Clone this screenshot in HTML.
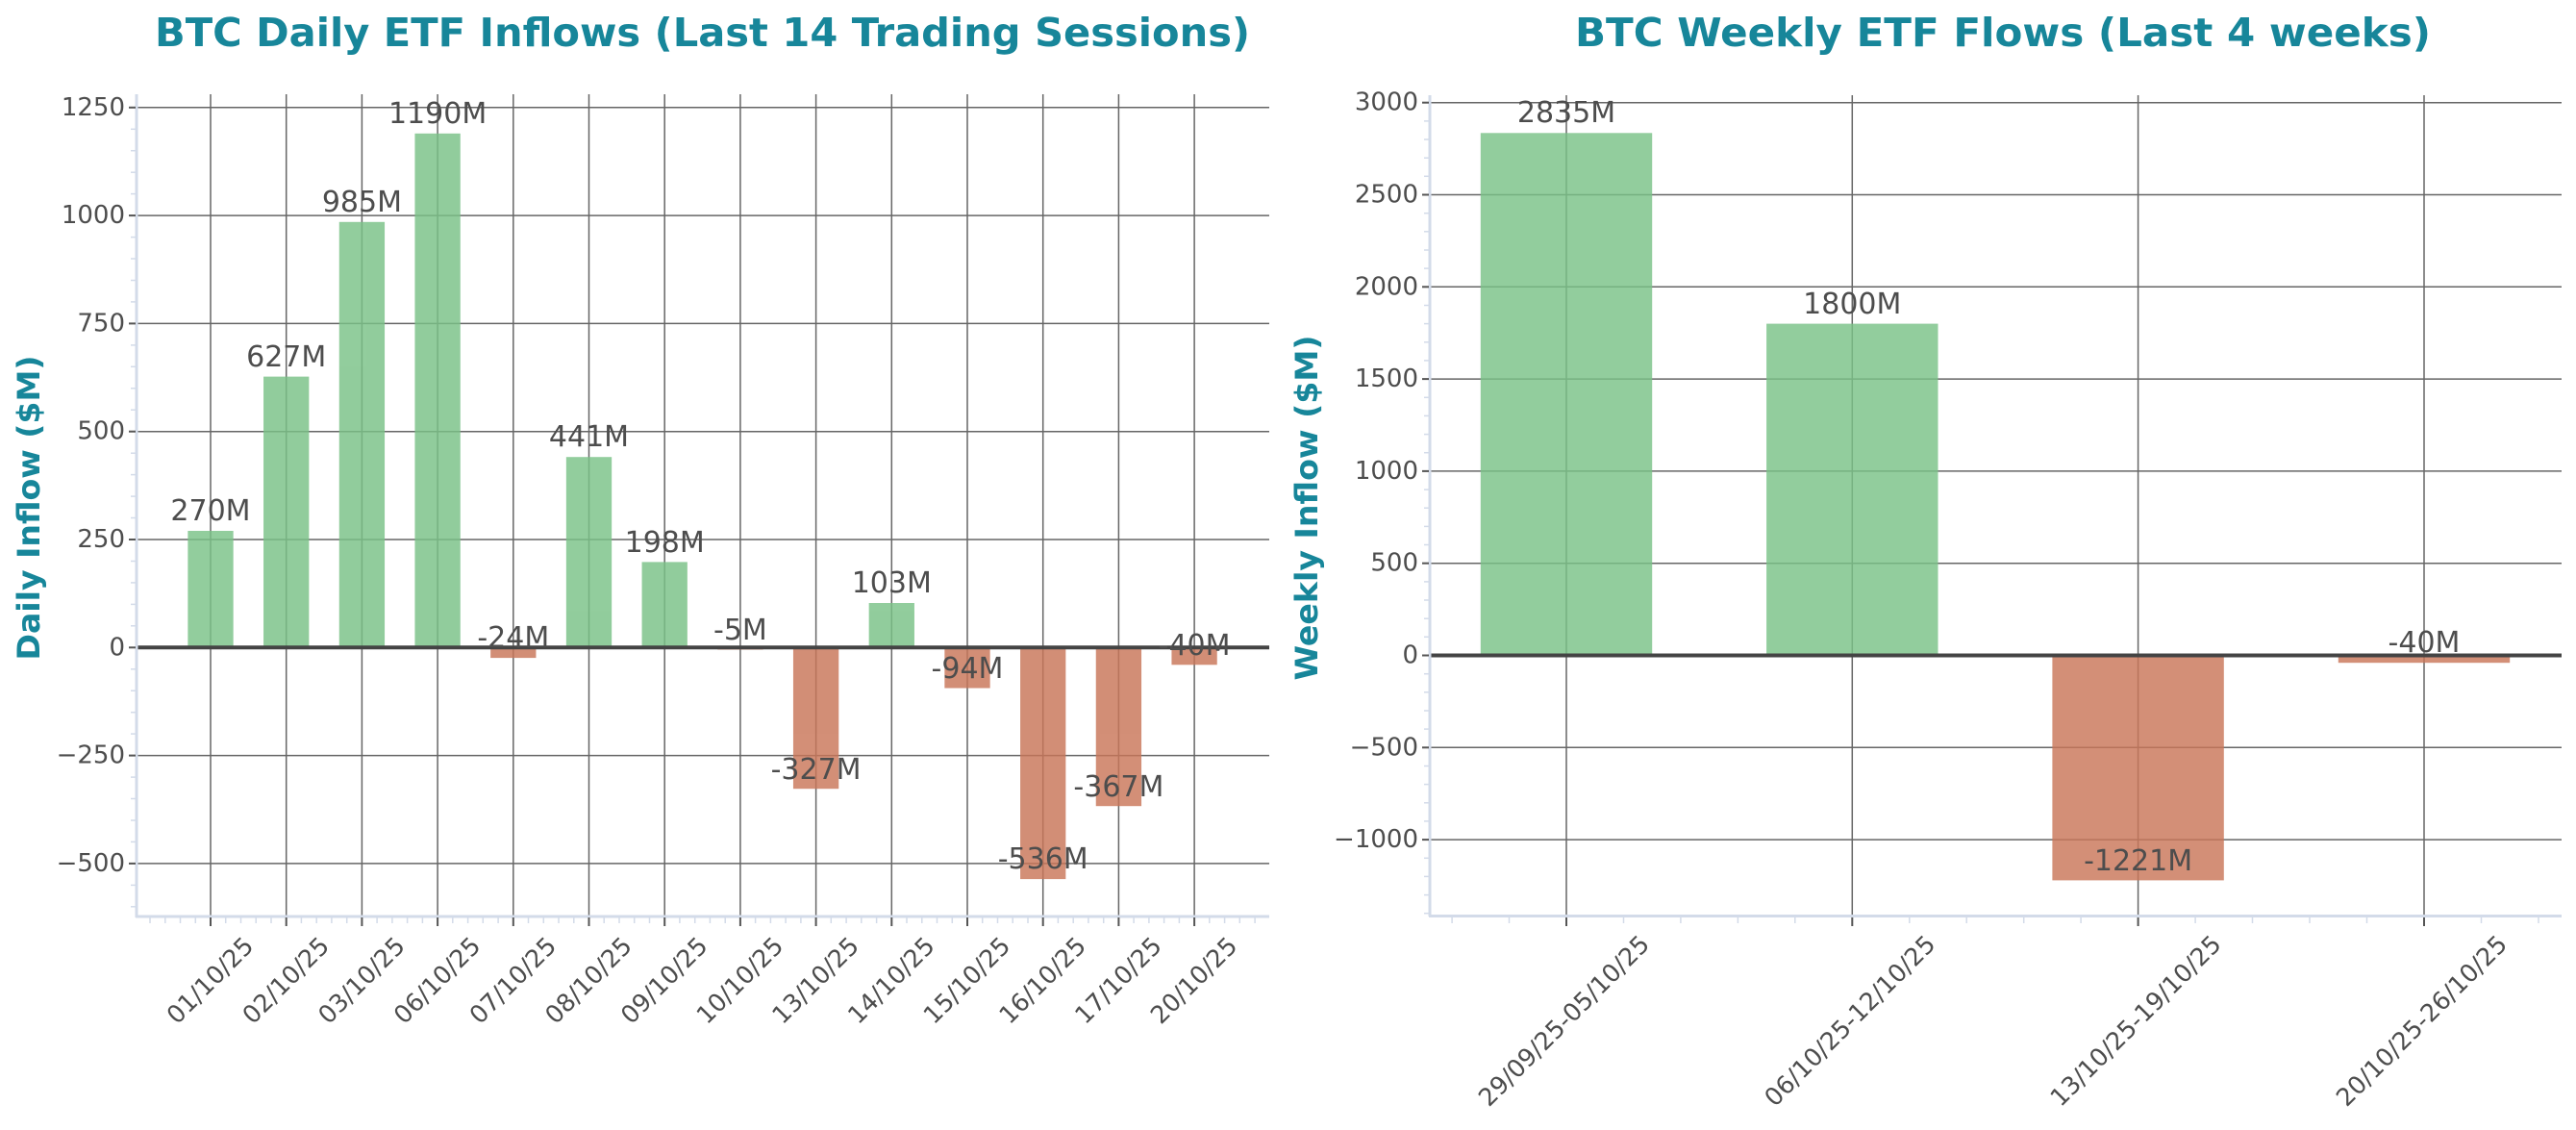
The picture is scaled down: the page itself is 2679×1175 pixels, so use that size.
<!DOCTYPE html>
<html><head><meta charset="utf-8"><style>
html,body{margin:0;padding:0;background:#fff;}
svg{display:block;font-family:"DejaVu Sans","Liberation Sans",sans-serif;}
</style></head><body>
<svg width="2679" height="1175" viewBox="0 0 2679 1175" xmlns="http://www.w3.org/2000/svg">
<rect width="2679" height="1175" fill="#fff"/>
<!-- Titles -->
<text x="161" y="48" font-size="41" font-weight="bold" fill="#17869a" textLength="1139" lengthAdjust="spacingAndGlyphs">BTC Daily ETF Inflows (Last 14 Trading Sessions)</text>
<text x="1638" y="48" font-size="41" font-weight="bold" fill="#17869a" textLength="890" lengthAdjust="spacingAndGlyphs">BTC Weekly ETF Flows (Last 4 weeks)</text>
<!-- Y labels -->
<text transform="translate(41,528) rotate(-90)" text-anchor="middle" font-size="32" font-weight="bold" fill="#17869a" textLength="317" lengthAdjust="spacingAndGlyphs">Daily Inflow ($M)</text>
<text transform="translate(1370,528) rotate(-90)" text-anchor="middle" font-size="32" font-weight="bold" fill="#17869a" textLength="359" lengthAdjust="spacingAndGlyphs">Weekly Inflow ($M)</text>

<!-- LEFT CHART -->
<g stroke="#666" stroke-width="1.5">
<line x1="142" x2="1320" y1="111.8" y2="111.8"/><line x1="142" x2="1320" y1="224.1" y2="224.1"/>
<line x1="142" x2="1320" y1="336.4" y2="336.4"/><line x1="142" x2="1320" y1="448.7" y2="448.7"/>
<line x1="142" x2="1320" y1="561" y2="561"/><line x1="142" x2="1320" y1="785.6" y2="785.6"/>
<line x1="142" x2="1320" y1="897.9" y2="897.9"/>
<line x1="219" x2="219" y1="98" y2="952"/><line x1="297.7" x2="297.7" y1="98" y2="952"/>
<line x1="376.4" x2="376.4" y1="98" y2="952"/><line x1="455.1" x2="455.1" y1="98" y2="952"/>
<line x1="533.8" x2="533.8" y1="98" y2="952"/><line x1="612.5" x2="612.5" y1="98" y2="952"/>
<line x1="691.2" x2="691.2" y1="98" y2="952"/><line x1="769.9" x2="769.9" y1="98" y2="952"/>
<line x1="848.6" x2="848.6" y1="98" y2="952"/><line x1="927.3" x2="927.3" y1="98" y2="952"/>
<line x1="1006" x2="1006" y1="98" y2="952"/><line x1="1084.7" x2="1084.7" y1="98" y2="952"/>
<line x1="1163.4" x2="1163.4" y1="98" y2="952"/><line x1="1242.1" x2="1242.1" y1="98" y2="952"/>
</g>
<g opacity="0.82">
<g fill="#7ac287">
<rect x="195.35" y="552" width="47.3" height="121.3"/>
<rect x="274.05" y="391.6" width="47.3" height="281.7"/>
<rect x="352.75" y="230.8" width="47.3" height="442.5"/>
<rect x="431.45" y="138.8" width="47.3" height="534.5"/>
<rect x="588.85" y="475.2" width="47.3" height="198.1"/>
<rect x="667.55" y="584.4" width="47.3" height="88.9"/>
<rect x="903.65" y="627" width="47.3" height="46.3"/>
</g>
<g fill="#c97659">
<rect x="510.15" y="673.3" width="47.3" height="10.8"/>
<rect x="746.25" y="673.3" width="47.3" height="2.2"/>
<rect x="824.95" y="673.3" width="47.3" height="146.9"/>
<rect x="982.35" y="673.3" width="47.3" height="42.2"/>
<rect x="1061.05" y="673.3" width="47.3" height="240.8"/>
<rect x="1139.75" y="673.3" width="47.3" height="164.9"/>
<rect x="1218.45" y="673.3" width="47.3" height="18"/>
</g>
</g>
<line x1="142" x2="1320" y1="673.3" y2="673.3" stroke="#444" stroke-width="4"/>
<!-- spines -->
<g stroke="#d3dbe9" stroke-width="3"><line x1="142" x2="142" y1="98" y2="954"/><line x1="141" x2="1320" y1="953" y2="953"/></g>
<g stroke="#d3dbe9" stroke-width="1.5">
<line x1="136" x2="141" y1="134.3" y2="134.3"/><line x1="136" x2="141" y1="156.7" y2="156.7"/><line x1="136" x2="141" y1="179.2" y2="179.2"/><line x1="136" x2="141" y1="201.6" y2="201.6"/>
<line x1="136" x2="141" y1="246.6" y2="246.6"/><line x1="136" x2="141" y1="269" y2="269"/><line x1="136" x2="141" y1="291.5" y2="291.5"/><line x1="136" x2="141" y1="313.9" y2="313.9"/>
<line x1="136" x2="141" y1="358.9" y2="358.9"/><line x1="136" x2="141" y1="381.3" y2="381.3"/><line x1="136" x2="141" y1="403.8" y2="403.8"/><line x1="136" x2="141" y1="426.2" y2="426.2"/>
<line x1="136" x2="141" y1="471.2" y2="471.2"/><line x1="136" x2="141" y1="493.6" y2="493.6"/><line x1="136" x2="141" y1="516.1" y2="516.1"/><line x1="136" x2="141" y1="538.5" y2="538.5"/>
<line x1="136" x2="141" y1="583.5" y2="583.5"/><line x1="136" x2="141" y1="605.9" y2="605.9"/><line x1="136" x2="141" y1="628.4" y2="628.4"/><line x1="136" x2="141" y1="650.8" y2="650.8"/>
<line x1="136" x2="141" y1="695.8" y2="695.8"/><line x1="136" x2="141" y1="718.2" y2="718.2"/><line x1="136" x2="141" y1="740.7" y2="740.7"/><line x1="136" x2="141" y1="763.1" y2="763.1"/>
<line x1="136" x2="141" y1="808.1" y2="808.1"/><line x1="136" x2="141" y1="830.5" y2="830.5"/><line x1="136" x2="141" y1="853" y2="853"/><line x1="136" x2="141" y1="875.4" y2="875.4"/>
<line x1="136" x2="141" y1="920.4" y2="920.4"/><line x1="136" x2="141" y1="942.8" y2="942.8"/>
</g>
<g stroke="#d3dbe9" stroke-width="1.5" id="lxminor">
<line x1="156" x2="156" y1="954" y2="960"/><line x1="171.8" x2="171.8" y1="954" y2="960"/><line x1="187.5" x2="187.5" y1="954" y2="960"/><line x1="203.3" x2="203.3" y1="954" y2="960"/>
<line x1="234.7" x2="234.7" y1="954" y2="960"/><line x1="250.5" x2="250.5" y1="954" y2="960"/><line x1="266.2" x2="266.2" y1="954" y2="960"/><line x1="282" x2="282" y1="954" y2="960"/>
<line x1="313.4" x2="313.4" y1="954" y2="960"/><line x1="329.2" x2="329.2" y1="954" y2="960"/><line x1="344.9" x2="344.9" y1="954" y2="960"/><line x1="360.7" x2="360.7" y1="954" y2="960"/>
<line x1="392.1" x2="392.1" y1="954" y2="960"/><line x1="407.9" x2="407.9" y1="954" y2="960"/><line x1="423.6" x2="423.6" y1="954" y2="960"/><line x1="439.4" x2="439.4" y1="954" y2="960"/>
<line x1="470.8" x2="470.8" y1="954" y2="960"/><line x1="486.6" x2="486.6" y1="954" y2="960"/><line x1="502.3" x2="502.3" y1="954" y2="960"/><line x1="518.1" x2="518.1" y1="954" y2="960"/>
<line x1="549.5" x2="549.5" y1="954" y2="960"/><line x1="565.3" x2="565.3" y1="954" y2="960"/><line x1="581" x2="581" y1="954" y2="960"/><line x1="596.8" x2="596.8" y1="954" y2="960"/>
<line x1="628.2" x2="628.2" y1="954" y2="960"/><line x1="644" x2="644" y1="954" y2="960"/><line x1="659.7" x2="659.7" y1="954" y2="960"/><line x1="675.5" x2="675.5" y1="954" y2="960"/>
<line x1="706.9" x2="706.9" y1="954" y2="960"/><line x1="722.7" x2="722.7" y1="954" y2="960"/><line x1="738.4" x2="738.4" y1="954" y2="960"/><line x1="754.2" x2="754.2" y1="954" y2="960"/>
<line x1="785.6" x2="785.6" y1="954" y2="960"/><line x1="801.4" x2="801.4" y1="954" y2="960"/><line x1="817.1" x2="817.1" y1="954" y2="960"/><line x1="832.9" x2="832.9" y1="954" y2="960"/>
<line x1="864.3" x2="864.3" y1="954" y2="960"/><line x1="880.1" x2="880.1" y1="954" y2="960"/><line x1="895.8" x2="895.8" y1="954" y2="960"/><line x1="911.6" x2="911.6" y1="954" y2="960"/>
<line x1="943" x2="943" y1="954" y2="960"/><line x1="958.8" x2="958.8" y1="954" y2="960"/><line x1="974.5" x2="974.5" y1="954" y2="960"/><line x1="990.3" x2="990.3" y1="954" y2="960"/>
<line x1="1021.7" x2="1021.7" y1="954" y2="960"/><line x1="1037.5" x2="1037.5" y1="954" y2="960"/><line x1="1053.2" x2="1053.2" y1="954" y2="960"/><line x1="1069" x2="1069" y1="954" y2="960"/>
<line x1="1100.4" x2="1100.4" y1="954" y2="960"/><line x1="1116.2" x2="1116.2" y1="954" y2="960"/><line x1="1131.9" x2="1131.9" y1="954" y2="960"/><line x1="1147.7" x2="1147.7" y1="954" y2="960"/>
<line x1="1179.1" x2="1179.1" y1="954" y2="960"/><line x1="1194.9" x2="1194.9" y1="954" y2="960"/><line x1="1210.6" x2="1210.6" y1="954" y2="960"/><line x1="1226.4" x2="1226.4" y1="954" y2="960"/>
<line x1="1257.8" x2="1257.8" y1="954" y2="960"/><line x1="1273.6" x2="1273.6" y1="954" y2="960"/><line x1="1289.3" x2="1289.3" y1="954" y2="960"/><line x1="1305.1" x2="1305.1" y1="954" y2="960"/>
</g>
<g stroke="#555" stroke-width="2">
<line x1="134" x2="141" y1="111.8" y2="111.8"/><line x1="134" x2="141" y1="224.1" y2="224.1"/><line x1="134" x2="141" y1="336.4" y2="336.4"/><line x1="134" x2="141" y1="448.7" y2="448.7"/>
<line x1="134" x2="141" y1="561" y2="561"/><line x1="134" x2="141" y1="673.3" y2="673.3"/><line x1="134" x2="141" y1="785.6" y2="785.6"/><line x1="134" x2="141" y1="897.9" y2="897.9"/>
<line x1="219" x2="219" y1="954" y2="963"/><line x1="297.7" x2="297.7" y1="954" y2="963"/><line x1="376.4" x2="376.4" y1="954" y2="963"/><line x1="455.1" x2="455.1" y1="954" y2="963"/>
<line x1="533.8" x2="533.8" y1="954" y2="963"/><line x1="612.5" x2="612.5" y1="954" y2="963"/><line x1="691.2" x2="691.2" y1="954" y2="963"/><line x1="769.9" x2="769.9" y1="954" y2="963"/>
<line x1="848.6" x2="848.6" y1="954" y2="963"/><line x1="927.3" x2="927.3" y1="954" y2="963"/><line x1="1006" x2="1006" y1="954" y2="963"/><line x1="1084.7" x2="1084.7" y1="954" y2="963"/>
<line x1="1163.4" x2="1163.4" y1="954" y2="963"/><line x1="1242.1" x2="1242.1" y1="954" y2="963"/>
</g>
<g font-size="26" fill="#4d4d4d" text-anchor="end" dominant-baseline="central">
<text x="130" y="111.8">1250</text><text x="130" y="224.1">1000</text><text x="130" y="336.4">750</text><text x="130" y="448.7">500</text>
<text x="130" y="561">250</text><text x="130" y="673.3">0</text><text x="130" y="785.6">−250</text><text x="130" y="897.9">−500</text>
</g>
<g font-size="30" fill="#4d4d4d" text-anchor="middle">
<text x="219" y="541">270M</text><text x="297.7" y="381">627M</text><text x="376.4" y="220">985M</text><text x="455.1" y="128">1190M</text>
<text x="533.8" y="673">-24M</text><text x="612.5" y="464">441M</text><text x="691.2" y="574">198M</text><text x="769.9" y="665">-5M</text>
<text x="848.6" y="810">-327M</text><text x="927.3" y="616">103M</text><text x="1006" y="705">-94M</text><text x="1084.7" y="903">-536M</text>
<text x="1163.4" y="828">-367M</text><text x="1242.1" y="681">-40M</text>
</g>
<g font-size="25.5" fill="#4d4d4d" text-anchor="middle" dominant-baseline="central">
<text transform="translate(219,1020) rotate(-45)">01/10/25</text>
<text transform="translate(297.7,1020) rotate(-45)">02/10/25</text>
<text transform="translate(376.4,1020) rotate(-45)">03/10/25</text>
<text transform="translate(455.1,1020) rotate(-45)">06/10/25</text>
<text transform="translate(533.8,1020) rotate(-45)">07/10/25</text>
<text transform="translate(612.5,1020) rotate(-45)">08/10/25</text>
<text transform="translate(691.2,1020) rotate(-45)">09/10/25</text>
<text transform="translate(769.9,1020) rotate(-45)">10/10/25</text>
<text transform="translate(848.6,1020) rotate(-45)">13/10/25</text>
<text transform="translate(927.3,1020) rotate(-45)">14/10/25</text>
<text transform="translate(1006,1020) rotate(-45)">15/10/25</text>
<text transform="translate(1084.7,1020) rotate(-45)">16/10/25</text>
<text transform="translate(1163.4,1020) rotate(-45)">17/10/25</text>
<text transform="translate(1242.1,1020) rotate(-45)">20/10/25</text>
</g>

<!-- RIGHT CHART -->
<g stroke="#666" stroke-width="1.5">
<line x1="1487" x2="2664" y1="106.7" y2="106.7"/><line x1="1487" x2="2664" y1="202.5" y2="202.5"/>
<line x1="1487" x2="2664" y1="298.3" y2="298.3"/><line x1="1487" x2="2664" y1="394.1" y2="394.1"/>
<line x1="1487" x2="2664" y1="489.9" y2="489.9"/><line x1="1487" x2="2664" y1="585.7" y2="585.7"/>
<line x1="1487" x2="2664" y1="777.3" y2="777.3"/><line x1="1487" x2="2664" y1="873.1" y2="873.1"/>
<line x1="1629" x2="1629" y1="99" y2="952"/><line x1="1926.3" x2="1926.3" y1="99" y2="952"/>
<line x1="2223.6" x2="2223.6" y1="99" y2="952"/><line x1="2521" x2="2521" y1="99" y2="952"/>
</g>
<g opacity="0.82">
<rect x="1539.8" y="138.3" width="178.4" height="543.2" fill="#7ac287"/>
<rect x="1837.1" y="336.6" width="178.4" height="344.9" fill="#7ac287"/>
<rect x="2134.4" y="681.5" width="178.4" height="233.9" fill="#c97659"/>
<rect x="2431.8" y="681.5" width="178.4" height="7.7" fill="#c97659"/>
</g>
<line x1="1487" x2="2664" y1="681.5" y2="681.5" stroke="#444" stroke-width="4"/>
<g stroke="#d3dbe9" stroke-width="3"><line x1="1487" x2="1487" y1="99" y2="953"/><line x1="1486" x2="2664" y1="952.5" y2="952.5"/></g>
<g stroke="#d3dbe9" stroke-width="1.5">
<line x1="1481" x2="1486" y1="125.9" y2="125.9"/><line x1="1481" x2="1486" y1="145" y2="145"/><line x1="1481" x2="1486" y1="164.2" y2="164.2"/><line x1="1481" x2="1486" y1="183.3" y2="183.3"/>
<line x1="1481" x2="1486" y1="221.7" y2="221.7"/><line x1="1481" x2="1486" y1="240.8" y2="240.8"/><line x1="1481" x2="1486" y1="260" y2="260"/><line x1="1481" x2="1486" y1="279.1" y2="279.1"/>
<line x1="1481" x2="1486" y1="317.5" y2="317.5"/><line x1="1481" x2="1486" y1="336.6" y2="336.6"/><line x1="1481" x2="1486" y1="355.8" y2="355.8"/><line x1="1481" x2="1486" y1="374.9" y2="374.9"/>
<line x1="1481" x2="1486" y1="413.3" y2="413.3"/><line x1="1481" x2="1486" y1="432.4" y2="432.4"/><line x1="1481" x2="1486" y1="451.6" y2="451.6"/><line x1="1481" x2="1486" y1="470.7" y2="470.7"/>
<line x1="1481" x2="1486" y1="509.1" y2="509.1"/><line x1="1481" x2="1486" y1="528.2" y2="528.2"/><line x1="1481" x2="1486" y1="547.4" y2="547.4"/><line x1="1481" x2="1486" y1="566.5" y2="566.5"/>
<line x1="1481" x2="1486" y1="604.9" y2="604.9"/><line x1="1481" x2="1486" y1="624" y2="624"/><line x1="1481" x2="1486" y1="643.2" y2="643.2"/><line x1="1481" x2="1486" y1="662.3" y2="662.3"/>
<line x1="1481" x2="1486" y1="700.7" y2="700.7"/><line x1="1481" x2="1486" y1="719.8" y2="719.8"/><line x1="1481" x2="1486" y1="739" y2="739"/><line x1="1481" x2="1486" y1="758.1" y2="758.1"/>
<line x1="1481" x2="1486" y1="796.5" y2="796.5"/><line x1="1481" x2="1486" y1="815.6" y2="815.6"/><line x1="1481" x2="1486" y1="834.8" y2="834.8"/><line x1="1481" x2="1486" y1="853.9" y2="853.9"/>
<line x1="1481" x2="1486" y1="892.3" y2="892.3"/><line x1="1481" x2="1486" y1="911.4" y2="911.4"/><line x1="1481" x2="1486" y1="930.6" y2="930.6"/><line x1="1481" x2="1486" y1="949.7" y2="949.7"/>
<line x1="1510.1" x2="1510.1" y1="954" y2="960"/><line x1="1569.5" x2="1569.5" y1="954" y2="960"/><line x1="1688.5" x2="1688.5" y1="954" y2="960"/><line x1="1747.9" x2="1747.9" y1="954" y2="960"/>
<line x1="1807.4" x2="1807.4" y1="954" y2="960"/><line x1="1866.8" x2="1866.8" y1="954" y2="960"/><line x1="1985.8" x2="1985.8" y1="954" y2="960"/><line x1="2045.2" x2="2045.2" y1="954" y2="960"/>
<line x1="2104.7" x2="2104.7" y1="954" y2="960"/><line x1="2164.1" x2="2164.1" y1="954" y2="960"/><line x1="2283.1" x2="2283.1" y1="954" y2="960"/><line x1="2342.5" x2="2342.5" y1="954" y2="960"/>
<line x1="2402" x2="2402" y1="954" y2="960"/><line x1="2461.5" x2="2461.5" y1="954" y2="960"/><line x1="2580.5" x2="2580.5" y1="954" y2="960"/><line x1="2640" x2="2640" y1="954" y2="960"/>
</g>
<g stroke="#555" stroke-width="2">
<line x1="1479" x2="1486" y1="106.7" y2="106.7"/><line x1="1479" x2="1486" y1="202.5" y2="202.5"/><line x1="1479" x2="1486" y1="298.3" y2="298.3"/>
<line x1="1479" x2="1486" y1="394.1" y2="394.1"/><line x1="1479" x2="1486" y1="489.9" y2="489.9"/><line x1="1479" x2="1486" y1="585.7" y2="585.7"/>
<line x1="1479" x2="1486" y1="681.5" y2="681.5"/><line x1="1479" x2="1486" y1="777.3" y2="777.3"/><line x1="1479" x2="1486" y1="873.1" y2="873.1"/>
<line x1="1629" x2="1629" y1="954" y2="963"/><line x1="1926.3" x2="1926.3" y1="954" y2="963"/><line x1="2223.6" x2="2223.6" y1="954" y2="963"/><line x1="2521" x2="2521" y1="954" y2="963"/>
</g>
<g font-size="26" fill="#4d4d4d" text-anchor="end" dominant-baseline="central">
<text x="1475" y="106.7">3000</text><text x="1475" y="202.5">2500</text><text x="1475" y="298.3">2000</text>
<text x="1475" y="394.1">1500</text><text x="1475" y="489.9">1000</text><text x="1475" y="585.7">500</text>
<text x="1475" y="681.5">0</text><text x="1475" y="777.3">−500</text><text x="1475" y="873.1">−1000</text>
</g>
<g font-size="30" fill="#4d4d4d" text-anchor="middle">
<text x="1629" y="127">2835M</text><text x="1926.3" y="326">1800M</text>
<text x="2223.6" y="905">-1221M</text><text x="2521" y="678">-40M</text>
</g>
<g font-size="25.5" fill="#4d4d4d" text-anchor="middle" dominant-baseline="central">
<text transform="translate(1627,1062) rotate(-45)">29/09/25-05/10/25</text>
<text transform="translate(1924.3,1062) rotate(-45)">06/10/25-12/10/25</text>
<text transform="translate(2221.6,1062) rotate(-45)">13/10/25-19/10/25</text>
<text transform="translate(2519,1062) rotate(-45)">20/10/25-26/10/25</text>
</g>
</svg>
</body></html>
